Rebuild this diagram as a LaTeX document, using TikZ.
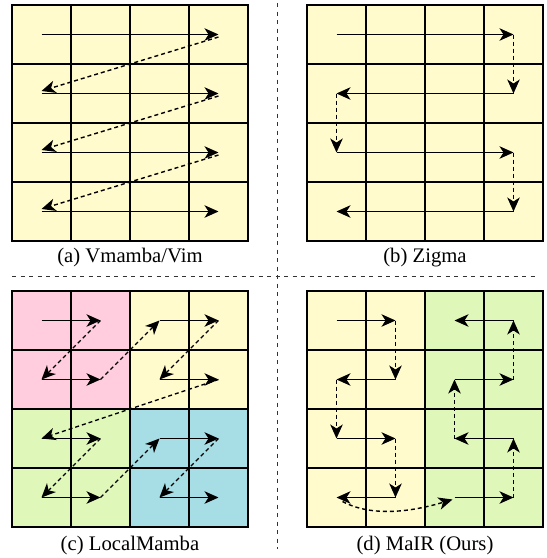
\documentclass[tikz,border=0pt]{standalone}
\usepackage{fontspec}
\setmainfont{Liberation Serif}
\usepackage{tikz}
\usetikzlibrary{arrows.meta,positioning}
\usepackage{xcolor}

\definecolor{cellyellow}{RGB}{255,251,204}
\definecolor{cellpink}{RGB}{255,205,222}
\definecolor{cellgreen}{RGB}{223,247,184}
\definecolor{cellcyan}{RGB}{167,221,229}

\begin{document}
\begin{tikzpicture}[
  x=1pt, y=-1pt,
  font=\fontsize{20.7}{24}\selectfont,
  gridline/.style={line width=1.3pt, black},
  scan/.style={-{Stealth[length=14pt, width=12.5pt, inset=4pt]}, line width=1.4pt},
  jump/.style={scan, dash pattern=on 4pt off 3pt},
  sepline/.style={line width=0.9pt, black!80, dash pattern=on 4pt off 4.5pt},
  caption/.style={inner sep=0pt}
]
\useasboundingbox (0,0) rectangle (547,558);

% cell colours
\fill[cellyellow] (12,5) rectangle (248,241);
\fill[cellyellow] (307,5) rectangle (543,241);
\fill[cellpink] (12,291) rectangle (130,409);
\fill[cellyellow] (130,291) rectangle (248,409);
\fill[cellgreen] (12,409) rectangle (130,527);
\fill[cellcyan] (130,409) rectangle (248,527);
\fill[cellyellow] (307,291) rectangle (425,527);
\fill[cellgreen] (425,291) rectangle (543,527);

% 4x4 grids and cell centres
\foreach \p/\ox/\oy in {a/12/5, b/307/5, c/12/291, d/307/291} {
  \foreach \k in {1,2,3} {
    \draw[gridline] (\ox+59*\k,\oy) -- (\ox+59*\k,\oy+236);
    \draw[gridline] (\ox,\oy+59*\k) -- (\ox+236,\oy+59*\k);
  }
  \draw[gridline] (\ox,\oy) rectangle (\ox+236,\oy+236);
  \foreach \r in {1,...,4}
    \foreach \c in {1,...,4}
      \coordinate (\p\r\c) at (\ox+59*\c-29.5, \oy+59*\r-29.5);
}

% (a) Vmamba/Vim
\foreach \r in {1,...,4}
  \draw[scan] (a\r1) -- (a\r4);
\foreach \r/\s in {1/2, 2/3, 3/4}
  \draw[jump] ([yshift=-2.5pt]a\r4) -- ([yshift=2.5pt]a\s1);

% (b) Zigma
\draw[scan] (b11) -- (b14);
\draw[jump] (b14) -- (b24);
\draw[scan] (b24) -- (b21);
\draw[jump] (b21) -- (b31);
\draw[scan] (b31) -- (b34);
\draw[jump] (b34) -- (b44);
\draw[scan] (b44) -- (b41);

% (c) LocalMamba
\foreach \r/\c/\d in {1/1/2, 1/3/4, 3/1/2, 3/3/4} {
  \pgfmathtruncatemacro{\s}{\r+1}
  \draw[scan] (c\r\c) -- (c\r\d);
  \draw[jump] (c\r\d) -- (c\s\c);
  \draw[scan] (c\s\c) -- (c\s\d);
}
\draw[jump] (c22) -- (c13);
\draw[jump] (c24) -- (c31);
\draw[jump] (c42) -- (c33);

% (d) MaIR (Ours)
\draw[scan] (d11) -- (d12);
\draw[jump] (d12) -- (d22);
\draw[scan] (d22) -- (d21);
\draw[jump] (d21) -- (d31);
\draw[scan] (d31) -- (d32);
\draw[jump] (d32) -- (d42);
\draw[scan] (d42) -- (d41);
\draw[jump] ([shift={(6,4)}]d41) .. controls +(30,16) and +(-40,12) .. ([shift={(-2,2)}]d43);
\draw[scan] (d43) -- (d44);
\draw[jump] (d44) -- (d34);
\draw[scan] (d34) -- (d33);
\draw[jump] (d33) -- (d23);
\draw[scan] (d23) -- (d24);
\draw[jump] (d24) -- (d14);
\draw[scan] (d14) -- (d13);

% captions
\node[caption] (capa) at (130,258) {(a) Vmamba/Vim};
\node[caption] (capb) at (425,258) {(b) Zigma};
\node[caption] (capc) at (130,546) {(c) LocalMamba};
\node[caption] (capd) at (425,546) {(d) MaIR (Ours)};

% separators
\draw[sepline] (12,276) -- (536,276);
\draw[sepline] (277.5,3) -- (277.5,549);
\end{tikzpicture}
\end{document}
